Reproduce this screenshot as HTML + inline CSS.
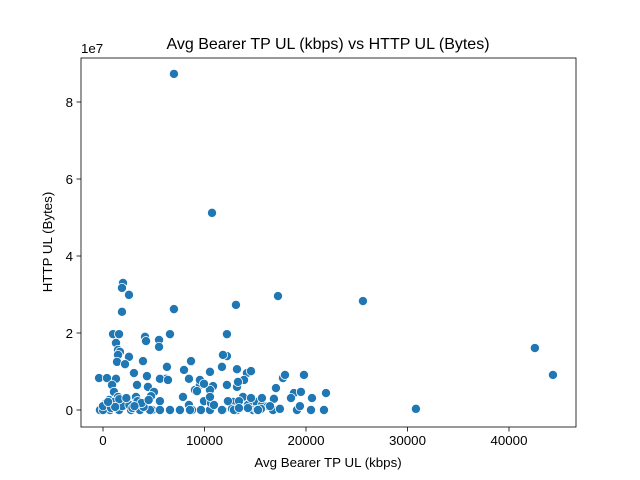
<!DOCTYPE html>
<html><head><meta charset="utf-8"><style>
html,body{margin:0;padding:0;background:#fff;}
svg{display:block;font-family:"Liberation Sans","DejaVu Sans",sans-serif;}
</style></head><body>
<svg id="chart" width="640" height="480" viewBox="0 0 640 480"></svg>
<script>
const xVals=[1970,1870,2560,1870,6990,990,1580,1280,4140,6600,5520,5520,1480,1670,1480,4240,3940,2560,1380,2170,8670,6300,11720,12210,-390,390,1280,3050,4330,6210,5610,8470,9060,14180,13200,17730,17040,14580,15070,15270,13790,14280,10840,9550,9260,10540,9950,7880,8470,6400,4430,5020,890,1080,3350,1480,2360,3250,3250,4730,5610,4830,6600,7580,10540,13200,8770,11820,13000,12810,10640,1580,-300,690,2760,3640,4630,5610,8570,9650,10930,11720,14780,15170,15660,16750,16250,12710,10540,12310,15560,13400,16840,0,300,2070,0,13100,17240,25610,12210,11820,8670,7980,13200,9550,10540,13890,14580,17930,18810,15660,9950,17430,19110,19400,16450,14280,15270,12900,13400,12210,13300,6990,10740,30830,42550,44330,18520,19800,20590,21970,21770,20490,19500,600,1100,1900,2600,3400,4000,800,1600,2900,3800,4500,1200,2300,3100,500];
const yVals=[3.30,3.17,2.99,2.55,2.62,1.97,1.97,1.74,1.90,1.97,1.82,1.64,1.56,1.51,1.43,1.79,1.27,1.38,1.25,1.19,1.25,1.12,1.12,1.40,0.83,0.83,0.81,0.96,0.88,0.81,0.81,0.81,0.52,0.96,0.60,0.83,0.57,1.01,0.21,0,0.34,0.13,0.62,0.65,0.49,0.52,0.23,0.34,0.13,0.78,0.60,0.47,0.65,0.47,0.65,0.34,0.26,0.34,0.18,0.36,0.23,0,0,0,0,0,0,0,0.10,0.21,0.18,0,0,0,0,0,0,0,0,0,0.13,0,0,0,0.13,0,0.10,0.03,0.34,0.23,0.03,0.23,0.29,0,0.18,0.18,0.10,2.73,2.96,2.83,1.97,1.43,1.27,1.04,1.06,0.78,0.99,0.78,0.31,0.91,0.44,0.31,0.68,0.03,0,0.10,0.10,0.05,0,0,0.05,0.65,0.73,8.73,5.12,0.03,1.61,0.91,0.31,0.91,0.31,0.44,0,0,0.47,0.26,0.21,0.10,0.13,0.23,0.08,0.05,0.28,0.05,0.18,0.26,0.08,0.31,0.10,0.21];
const xTicks=[0,10000,20000,30000,40000];
const yTicks=[0,2,4,6,8];
const yTickLabels=["0","2","4","6","8"];

const NS="http://www.w3.org/2000/svg";
const svg=document.getElementById('chart');
const L=81,R=576,T=58,B=427;
function sx(v){return 103+v*0.01015;}
function sy(v){return 410-v*38.5;}
function mk(tag,attrs,parent){const e=document.createElementNS(NS,tag);for(const k in attrs)e.setAttribute(k,attrs[k]);(parent||svg).appendChild(e);return e;}

const pts=mk('g',{});


for(let i=0;i<xVals.length;i++){
  const c=mk('circle',{cx:sx(xVals[i]),cy:sy(yVals[i]),r:4.6,fill:'#1f77b4',stroke:'#fff','stroke-width':0.8},pts);
  
  
}
const frame=mk('rect',{x:L,y:T,width:R-L,height:B-T,fill:'none',stroke:'#000','stroke-width':0.8});


xTicks.forEach(t=>{
  const x=sx(t);
  const ln=mk('line',{x1:x,x2:x,y1:B,y2:B+4.5,stroke:'#000','stroke-width':0.8});
  
  
  const tx=mk('text',{x:x,y:B+18,'font-size':'13.3','text-anchor':'middle',fill:'#000'});
  tx.textContent=String(t);
  
  
});
yTicks.forEach((t,i)=>{
  const y=sy(t);
  const ln=mk('line',{x1:L-4.5,x2:L,y1:y,y2:y,stroke:'#000','stroke-width':0.8});
  
  
  const tx=mk('text',{x:L-8,y:y+5,'font-size':'13.3','text-anchor':'end',fill:'#000'});
  tx.textContent=yTickLabels[i];
  
  
});
</script>
<div style="position:absolute;left:0;top:0;width:640px;height:480px;pointer-events:none;">
<svg width="640" height="480" style="position:absolute;left:0;top:0;font-family:'Liberation Sans','DejaVu Sans',sans-serif;">
<text x="328" y="49" font-size="16" text-anchor="middle">Avg Bearer TP UL (kbps) vs HTTP UL (Bytes)</text>
<text x="328" y="467" font-size="13.3" text-anchor="middle">Avg Bearer TP UL (kbps)</text>
<text x="0" y="0" font-size="13.3" text-anchor="middle" transform="translate(52,242) rotate(-90)">HTTP UL (Bytes)</text>
<text x="81" y="53" font-size="13.3">1e7</text>
</svg></div>
</body></html>
